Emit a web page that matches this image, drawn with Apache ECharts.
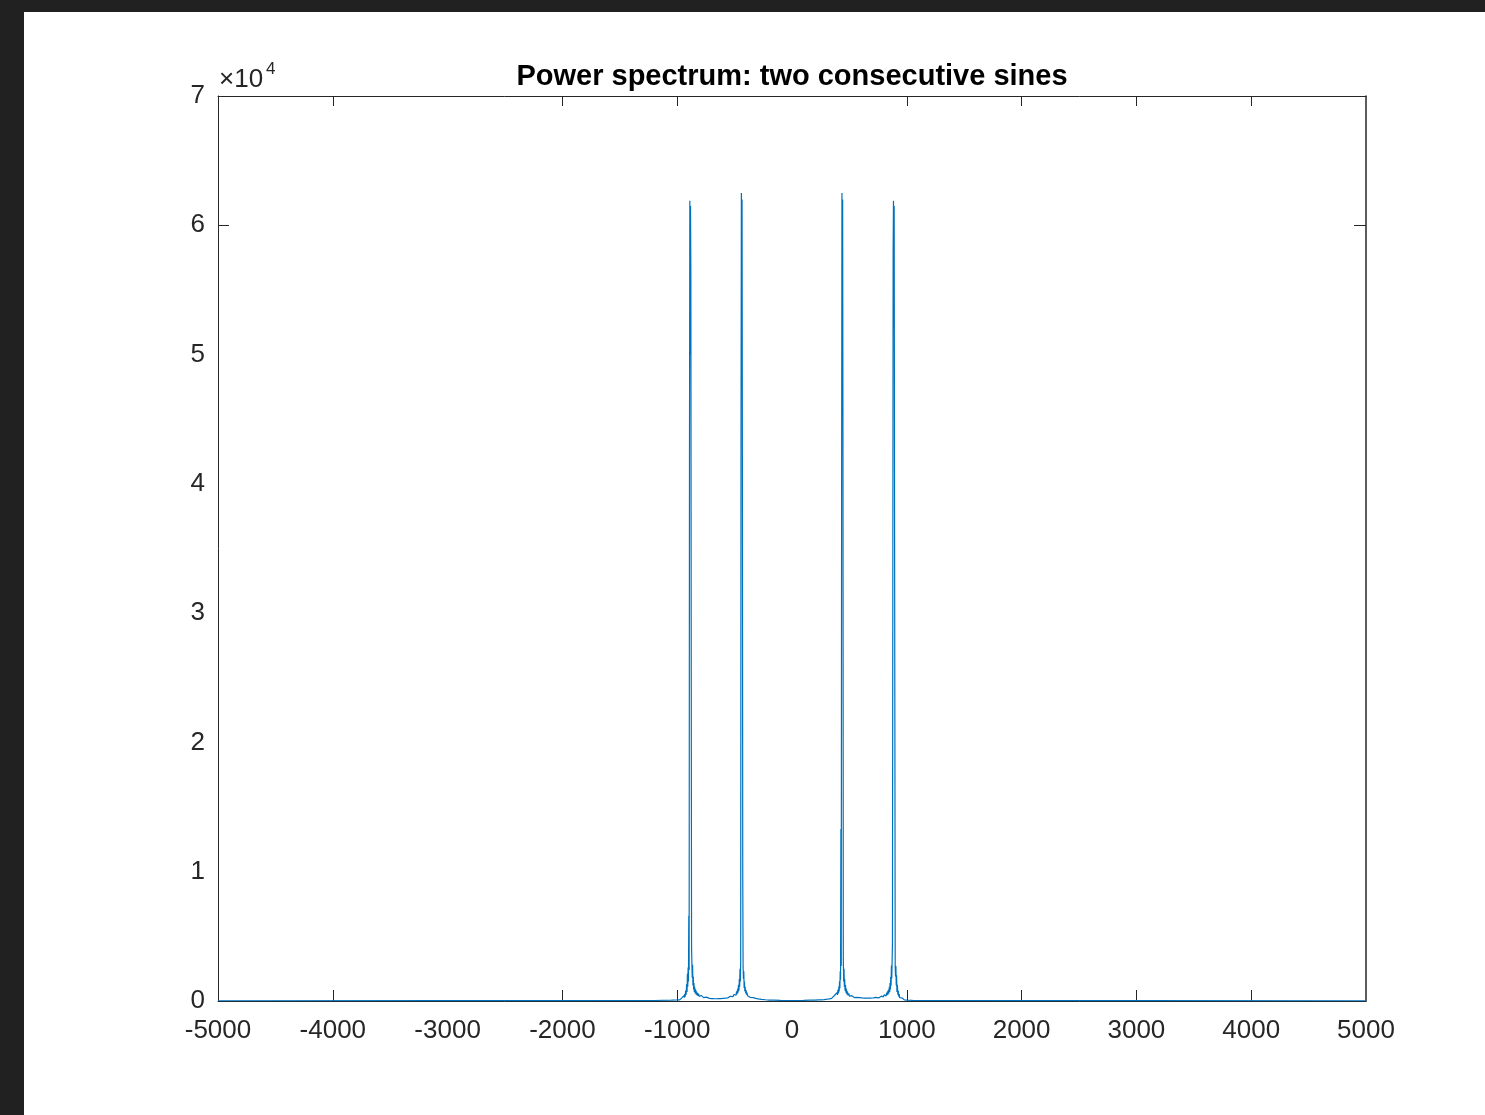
<!DOCTYPE html>
<html>
<head>
<meta charset="utf-8">
<script src="https://cdn.jsdelivr.net/npm/echarts@6/dist/echarts.min.js"></script>
<style>
  html, body { margin: 0; padding: 0; background: #212121; width: 1485px; height: 1115px; overflow: hidden; }
  #chart { position: absolute; left: 24px; top: 12px; width: 1461px; height: 1103px; background: #ffffff; }
</style>
</head>
<body>
<div id="chart"></div>
<script>
// ---- data ----
const titleText = 'Power spectrum: two consecutive sines';
const xTicks = [-5000, -4000, -3000, -2000, -1000, 0, 1000, 2000, 3000, 4000, 5000];
const yTickLabels = ['0', '1', '2', '3', '4', '5', '6', '7'];
const yScaleExp = '4';

const freqNeg = [-5000, -3000, -2000, -1200, -1050,
  -1000, -992, -985, -978, -972, -966, -960, -955, -950, -946, -942, -938, -934, -930, -926, -922, -918, -914, -911, -908, -905, -902, -899, -896,
  -893, -890, -887, -884, -881, -878, -875,
  -872, -869, -866, -863, -860, -857, -854, -851, -848, -844, -840, -836, -832, -828, -824, -820, -814, -808, -802, -796, -790, -784, -778,
  -770, -762, -754, -746, -738, -730, -720, -710, -700, -690, -680, -670, -660, -650, -640, -630, -620, -610, -600, -590, -580, -570,
  -560, -552, -544, -536, -528, -520, -513, -506, -500, -494, -488, -483, -478, -474, -470, -466, -462, -459, -456, -453, -450, -447,
  -444, -441, -438, -435, -432, -429,
  -426, -423, -420, -417, -414, -411, -408, -404, -400, -396, -392, -387, -382, -376, -370, -362, -354, -345, -336, -326, -316, -305, -294,
  -280, -265, -250, -230, -200, -160, -100, 0];
const powerNeg = [20, 25, 30, 40, 60,
  80, 60, 140, 90, 180, 110, 240, 150, 330, 200, 420, 260, 560, 340, 800, 480, 1300, 700, 2100, 1100, 2600, 1500, 6600, 2400,
  42000, 61900, 50000, 61500, 56000, 28000, 4200,
  2900, 1800, 2800, 1200, 1900, 900, 1400, 700, 1100, 600, 900, 500, 750, 450, 640, 400, 560, 350, 480, 320, 430, 290, 380,
  260, 340, 240, 300, 220, 280, 200, 250, 190, 235, 180, 225, 175, 220, 180, 230, 185, 240, 200, 260, 215, 280,
  240, 320, 270, 360, 300, 420, 340, 500, 380, 600, 440, 750, 520, 950, 650, 1250, 800, 1700, 1100, 2500, 1500, 3000,
  45000, 62500, 55000, 62000, 40000, 9800,
  2600, 1700, 2300, 1000, 1500, 750, 1100, 600, 850, 480, 650, 400, 520, 330, 420, 270, 330, 210, 260, 170, 200, 140, 160,
  110, 125, 90, 95, 70, 60, 45, 40];

const freqPos = [100, 160, 200, 230, 250, 265, 280, 294, 305, 316, 326, 336, 345, 354, 362, 370, 376, 382, 387, 392, 396, 400, 404, 408, 411, 414, 417, 420, 423, 426, 429,
  432, 435, 438, 441, 444, 447,
  450, 453, 456, 459, 462, 466, 470, 474, 478, 483, 488, 494, 500, 506, 513, 520, 528, 536, 544, 552, 560, 570, 580, 590, 600, 610, 620, 630,
  640, 650, 660, 670, 680, 690, 700, 710, 720, 730, 738, 746, 754, 762, 770, 778, 784, 790, 796, 802, 808, 814, 820, 824, 828, 832, 836, 840,
  844, 848, 851, 854, 857, 860, 863, 866, 869, 872, 875,
  878, 881, 884, 887, 890, 893, 896,
  899, 902, 905, 908, 911, 914, 918, 922, 926, 930, 934, 938, 942, 946, 950, 955, 960, 966, 972, 978, 985, 992, 1000, 1050, 1200, 2000, 3000, 5000];
const powerPos = [45, 60, 72, 92, 92, 128, 108, 162, 138, 205, 168, 262, 208, 335, 268, 425, 325, 525, 395, 655, 475, 860, 590, 1120, 740, 1520, 990, 2300, 1650, 13300, 2700,
  38000, 62500, 54000, 62000, 42000, 3200,
  1500, 2500, 1100, 1700, 790, 1240, 640, 940, 515, 740, 435, 590, 375, 490, 335, 410, 295, 355, 265, 315, 235, 275, 210, 255, 195, 235, 180, 225,
  175, 215, 170, 220, 175, 230, 185, 245, 195, 275, 215, 295, 235, 335, 255, 375, 285, 425, 315, 475, 345, 555, 395, 635, 445, 745, 495, 890,
  595, 1090, 690, 1390, 890, 1880, 1190, 2750, 1750, 3000, 4500,
  30000, 58000, 61900, 52000, 61500, 40000, 22000,
  2600, 1900, 2700, 1200, 2000, 700, 1250, 480, 780, 340, 540, 260, 400, 200, 320, 150, 230, 110, 170, 90, 130, 60, 75, 55, 40, 30, 25, 20];

// ---- build option ----
const freq = freqNeg.concat(freqPos);
const power = powerNeg.concat(powerPos);
const seriesData = freq.map((f, i) => [f, power[i]]);

const axisColor = '#262626';
const fontFam = '"Liberation Sans", Arial, Helvetica, sans-serif';
const visibleXTicks = [-4000, -2000, -1000, 1000, 2000, 3000, 4000];
const visibleYTicks = [60000];

const chart = echarts.init(document.getElementById('chart'), null, { renderer: 'canvas' });
const gridPos = { left: 194, right: 119, top: 84, bottom: 114 };

chart.setOption({
  animation: false,
  backgroundColor: '#ffffff',
  grid: Object.assign({ containLabel: false }, gridPos),
  graphic: [
    { type: 'text', x: 768, y: 65, style: { text: titleText, x: 0, y: 0, align: 'center', verticalAlign: 'middle', font: 'bold 29px ' + fontFam, fill: '#000000' } },
    { type: 'text', x: 195, y: 68, style: { text: '×10', align: 'left', verticalAlign: 'middle', font: '26px ' + fontFam, fill: axisColor } },
    { type: 'text', x: 242, y: 57, style: { text: yScaleExp, align: 'left', verticalAlign: 'middle', font: '17px ' + fontFam, fill: axisColor } }
  ],
  xAxis: [
    {
      type: 'value', position: 'bottom', min: xTicks[0], max: xTicks[xTicks.length - 1], interval: 1000,
      axisLine: { show: true, onZero: false, lineStyle: { color: axisColor, width: 1 } },
      axisTick: { show: true, inside: true, length: 11, customValues: visibleXTicks, lineStyle: { color: axisColor, width: 1 } },
      axisLabel: { show: true, fontSize: 26, color: axisColor, fontFamily: fontFam, margin: 17,
                   customValues: xTicks, formatter: v => String(v) },
      splitLine: { show: false }
    },
    {
      type: 'value', position: 'top', min: xTicks[0], max: xTicks[xTicks.length - 1], interval: 1000,
      axisLine: { show: true, onZero: false, lineStyle: { color: axisColor, width: 1 } },
      axisTick: { show: true, inside: true, length: 10, customValues: visibleXTicks, lineStyle: { color: axisColor, width: 1 } },
      axisLabel: { show: false },
      splitLine: { show: false }
    }
  ],
  yAxis: [
    {
      type: 'value', position: 'left', min: 0, max: 70000, interval: 10000,
      axisLine: { show: true, onZero: false, lineStyle: { color: axisColor, width: 1 } },
      axisTick: { show: true, inside: true, length: 11, customValues: visibleYTicks, lineStyle: { color: axisColor, width: 1 } },
      axisLabel: { show: true, fontSize: 26, color: axisColor, fontFamily: fontFam, margin: 13,
                   formatter: v => yTickLabels[Math.round(v / 10000)] },
      splitLine: { show: false }
    },
    {
      type: 'value', position: 'right', min: 0, max: 70000, interval: 10000,
      axisLine: { show: true, onZero: false, lineStyle: { color: axisColor, width: 1.5 } },
      axisTick: { show: true, inside: true, length: 12, customValues: visibleYTicks, lineStyle: { color: axisColor, width: 1 } },
      axisLabel: { show: false },
      splitLine: { show: false }
    }
  ],
  series: [
    {
      type: 'line', xAxisIndex: 0, yAxisIndex: 0, data: seriesData,
      showSymbol: false, symbol: 'none', sampling: null,
      lineStyle: { color: '#0072BD', width: 1.2 },
      z: 1
    }
  ]
});
</script>
</body>
</html>
